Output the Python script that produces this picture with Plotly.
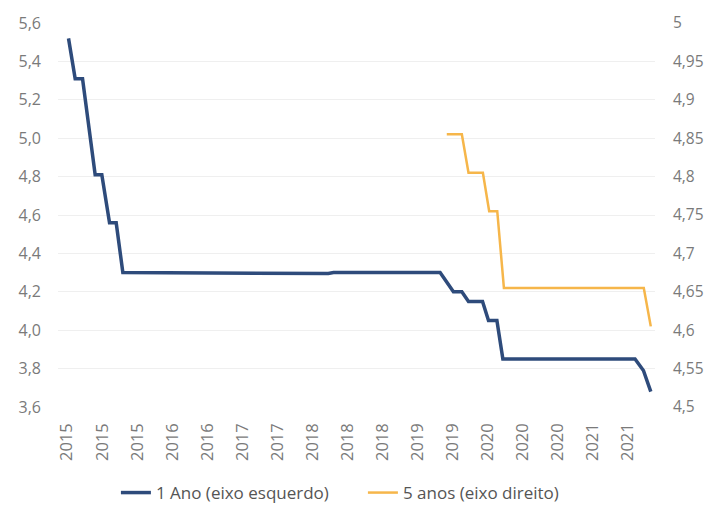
import plotly.graph_objects as go

# x tick labels (category positions 0..16)
tick_labels = ["2015", "2015", "2015", "2016", "2016", "2017", "2017", "2018", "2018",
               "2018", "2019", "2019", "2020", "2020", "2020", "2021", "2021"]

# 1 Ano (left axis): positions along the category axis and values
ano1_pos = [0.04, 0.23, 0.44, 0.80, 0.99, 1.21, 1.40, 1.59, 7.45, 7.6, 10.64, 11.02, 11.26,
            11.45, 11.85, 12.02, 12.26, 12.43, 16.20, 16.44, 16.65]
ano1_val = [5.52, 5.31, 5.31, 4.81, 4.81, 4.56, 4.56, 4.30, 4.295, 4.30, 4.30, 4.20, 4.20,
            4.15, 4.15, 4.05, 4.05, 3.85, 3.85, 3.79, 3.68]

# 5 anos (right axis)
anos5_pos = [10.83, 11.26, 11.45, 11.86, 12.04, 12.27, 12.46, 16.45, 16.65]
anos5_val = [4.855, 4.855, 4.805, 4.805, 4.755, 4.755, 4.655, 4.655, 4.605]

left_ticks = [3.6, 3.8, 4.0, 4.2, 4.4, 4.6, 4.8, 5.0, 5.2, 5.4, 5.6]
right_ticks = [4.5, 4.55, 4.6, 4.65, 4.7, 4.75, 4.8, 4.85, 4.9, 4.95, 5.0]

BLUE = "#2e4b7b"
ORANGE = "#f6b64a"
FONT = "Open Sans"
TICKC = "#7a7a7a"

fig = go.Figure()
fig.add_trace(go.Scatter(x=ano1_pos, y=ano1_val, mode="lines", name="1 Ano (eixo esquerdo)",
                         line=dict(color=BLUE, width=3.5)))
fig.add_trace(go.Scatter(x=anos5_pos, y=anos5_val, mode="lines", name="5 anos (eixo direito)",
                         line=dict(color=ORANGE, width=2.5), yaxis="y2"))

def fmt(v, dec):
    s = f"{v:.{dec}f}" if dec else f"{v:g}"
    return s.replace(".", ",")

fig.update_layout(
    width=721, height=509,
    margin=dict(l=58, r=66, t=23, b=102, autoexpand=False),
    paper_bgcolor="white", plot_bgcolor="white",
    font=dict(family=FONT, color=TICKC, size=16),
    showlegend=True,
    legend=dict(orientation="h", x=0.097, xanchor="left", y=-0.224, yanchor="middle",
                font=dict(size=17, color="#555555", family=FONT),
                entrywidth=202, entrywidthmode="pixels",
                traceorder="normal"),
    xaxis=dict(range=[-0.26, 16.77], tickmode="array", tickvals=list(range(len(tick_labels))),
               ticktext=tick_labels, tickangle=-90, showgrid=False, zeroline=False,
               showline=False, ticks="", ticklabelstandoff=12, automargin=False,
               tickfont=dict(size=16.5, color=TICKC)),
    yaxis=dict(range=[3.6, 5.6], tickmode="array", tickvals=left_ticks,
               ticktext=[fmt(v, 1) for v in left_ticks], showgrid=True, gridcolor="#efefef",
               gridwidth=1, zeroline=False, showline=False, ticklabelstandoff=16,
               automargin=False, tickfont=dict(size=16, color=TICKC)),
    yaxis2=dict(range=[4.5, 5.0], overlaying="y", side="right", tickmode="array",
                tickvals=right_ticks, ticktext=[fmt(v, 0) for v in right_ticks],
                showgrid=False, zeroline=False, showline=False, ticklabelstandoff=17,
                automargin=False, tickfont=dict(size=15.5, color=TICKC)),
)

fig.write_html("out.html", config={"displayModeBar": False},
               post_script="document.body.style.margin='0';document.body.style.overflow='hidden';")
